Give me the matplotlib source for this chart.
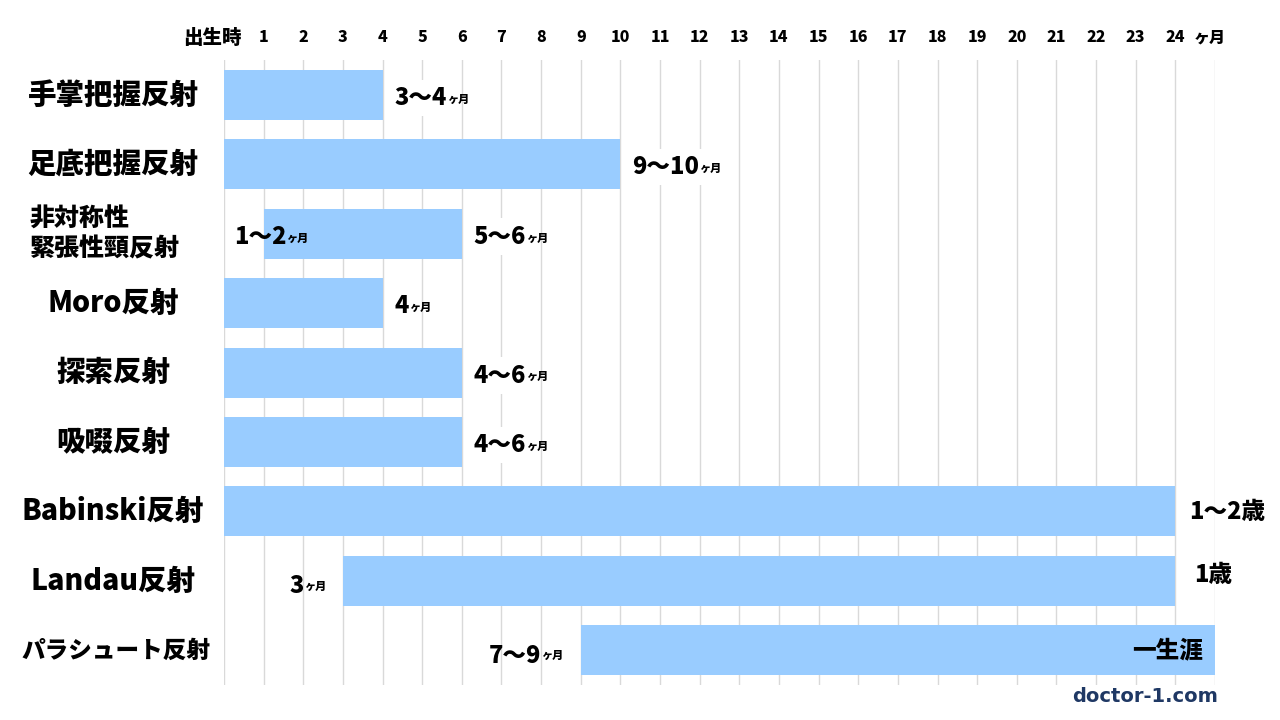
import matplotlib
matplotlib.use("Agg")
import matplotlib.pyplot as plt
from matplotlib.transforms import blended_transform_factory

plt.rcParams['font.family'] = ['Noto Sans CJK JP', 'DejaVu Sans']

# ---- data ----
categories = ['手掌把握反射', '足底把握反射', '非対称性\n緊張性頸反射', 'Moro反射',
              '探索反射', '吸啜反射', 'Babinski反射', 'Landau反射', 'パラシュート反射']
starts = [0, 0, 1, 0, 0, 0, 0, 3, 9]
ends = [4, 10, 6, 4, 6, 6, 24, 24, 25]
end_main = ['3～4', '9～10', '5～6', '4', '4～6', '4～6', '1～2歳', '1歳', '一生涯']
end_unit = ['ヶ月', 'ヶ月', 'ヶ月', 'ヶ月', 'ヶ月', 'ヶ月', '', '', '']
start_main = ['', '', '1～2', '', '', '', '', '3', '7～9']
start_unit = ['', '', 'ヶ月', '', '', '', '', 'ヶ月', 'ヶ月']
month_ticks = list(range(1, 25))

BAR = '#99CCFF'
GRID = '#D9D9D9'
W = 'black'

fig = plt.figure(figsize=(12.8, 7.2), dpi=100)
ax = fig.add_axes([224 / 1280, 35 / 720, (1215 - 224) / 1280, 625 / 720])
ax.set_xlim(0, 25)
ax.set_ylim(len(categories) - 0.5, -0.5)
for s in ax.spines.values():
    s.set_visible(False)
ax.set_yticks([])
ax.set_xticks(range(0, 26))
ax.tick_params(axis='x', length=0, labelbottom=False)
ax.grid(axis='x', color=GRID, linewidth=1)
ax.set_axisbelow(True)

ypos = list(range(len(categories)))
ax.barh(ypos, [e - s for s, e in zip(starts, ends)], left=starts,
        height=0.72, color=BAR, zorder=2)

PX = 72 / 100  # points per pixel

# top tick labels
top = blended_transform_factory(ax.transData, fig.transFigure)
for m in month_ticks:
    ax.text(m, 682 / 720, str(m), transform=top, ha='center', va='center',
            fontsize=11.5, fontweight=W, color='black')
ax.annotate('出生時', xy=(0, 682 / 720), xycoords=top, xytext=(-12 * PX, 0),
            textcoords='offset points', ha='center', va='center',
            fontsize=14, fontweight=W, color='black')
ax.annotate('ヶ月', xy=(25, 682 / 720), xycoords=top, xytext=(-5 * PX, 0),
            textcoords='offset points', ha='center', va='center',
            fontsize=11.5, fontweight=W, color='black')

# category labels
lab = blended_transform_factory(fig.transFigure, ax.transData)
for i, c in enumerate(categories):
    if '\n' in c:
        ax.text(30 / 1280, i, c, transform=lab, ha='left', va='center',
                fontsize=18, fontweight=W, linespacing=1.15)
    elif c.startswith('パラ'):
        ax.text(116 / 1280, i, c, transform=lab, ha='center', va='center',
                fontsize=17, fontweight=W)
    else:
        ax.text(113 / 1280, i, c, transform=lab, ha='center', va='center',
                fontsize=20.5, fontweight=W)


def right_label(x, y, main, unit, dx, dy=0, inside=False):
    if inside:
        ax.annotate(main, xy=(x, y), xytext=(dx * PX, dy * PX),
                    textcoords='offset points', ha='right', va='center',
                    fontsize=17, fontweight=W, zorder=4)
        return
    t = ax.annotate(main, xy=(x, y), xytext=(dx * PX, dy * PX),
                    textcoords='offset points', ha='left', va='center',
                    fontsize=17, fontweight=W, zorder=4,
                    bbox=dict(boxstyle='square,pad=0.25', fc='white', ec='none')
                    if unit else None)
    if unit:
        ax.annotate(unit, xy=(1, 0.22), xycoords=t, ha='left', va='bottom',
                    fontsize=8, fontweight=W, zorder=4)


def left_label(x, y, main, unit, dx, dy=0):
    u = ax.annotate(unit, xy=(x, y), xytext=(dx * PX, dy * PX),
                    textcoords='offset points', ha='right', va='center',
                    fontsize=8, fontweight=W, zorder=4)
    ax.annotate(main, xy=(0, -0.55), xycoords=u, ha='right', va='bottom',
                fontsize=17, fontweight=W, zorder=4)


for i in ypos:
    if i == 8:
        right_label(ends[i], i, end_main[i], '', -12, 0, inside=True)
    elif i == 6:
        right_label(ends[i], i, end_main[i], '', 14, 0)
    elif i == 7:
        right_label(ends[i], i, end_main[i], '', 19, 6)
    else:
        right_label(ends[i], i, end_main[i], end_unit[i], 12, -3)
    if start_main[i]:
        if i == 2:
            t = ax.annotate(start_main[i], xy=(starts[i], i), xytext=(-30 * PX, -3 * PX),
                            textcoords='offset points', ha='left', va='center',
                            fontsize=17, fontweight=W, zorder=4)
            ax.annotate(start_unit[i], xy=(1, 0.22), xycoords=t, ha='left',
                        va='bottom', fontsize=8, fontweight=W, zorder=4)
        else:
            left_label(starts[i], i, start_main[i], start_unit[i], -17, -5)

fig.text(1218 / 1280, 23 / 720, 'doctor-1.com', ha='right', va='center',
         fontsize=14, fontweight='bold', color='#1F3864',
         family=['DejaVu Sans'])

fig.savefig('out.png', dpi=100, facecolor='white')
